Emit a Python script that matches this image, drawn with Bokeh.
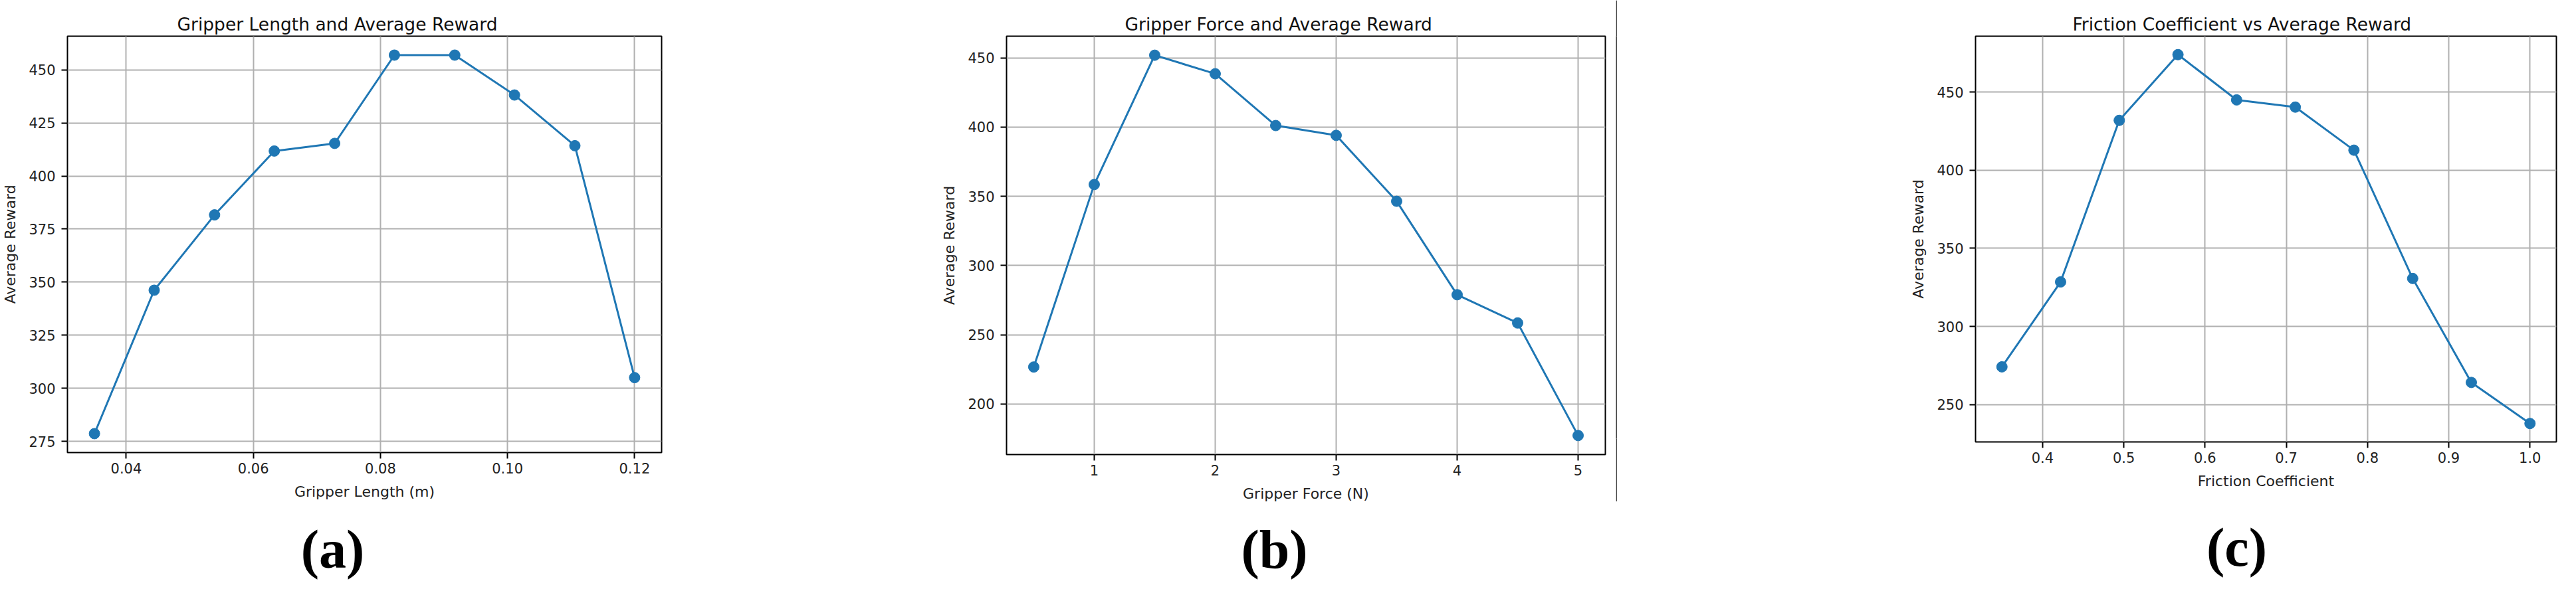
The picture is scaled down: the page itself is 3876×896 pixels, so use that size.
from bokeh.plotting import figure
from bokeh.layouts import row, column
from bokeh.models import Range1d, FixedTicker, PrintfTickFormatter, Label
from bokeh.embed import file_html
from bokeh.resources import INLINE

# (a) gripper length
length_m = [0.035, 0.0444, 0.0539, 0.0633, 0.0728, 0.0822, 0.0917, 0.1011, 0.1106, 0.12]
length_reward = [278.6, 346.2, 381.7, 411.8, 415.4, 457.0, 457.0, 438.2, 414.3, 305.0]
length_ticks = [0.04, 0.06, 0.08, 0.10, 0.12]
length_yticks = [275, 300, 325, 350, 375, 400, 425, 450]

# (b) gripper force
force_n = [0.5, 1.0, 1.5, 2.0, 2.5, 3.0, 3.5, 4.0, 4.5, 5.0]
force_reward = [226.7, 358.5, 451.9, 438.5, 401.1, 394.0, 346.4, 278.9, 258.5, 177.2]
force_ticks = [1, 2, 3, 4, 5]
force_yticks = [200, 250, 300, 350, 400, 450]

# (c) friction coefficient
friction = [0.35, 0.4222, 0.4944, 0.5667, 0.6389, 0.7111, 0.7833, 0.8556, 0.9278, 1.0]
friction_reward = [274.1, 328.5, 432.0, 474.1, 445.1, 440.5, 412.9, 330.7, 264.1, 237.8]
friction_ticks = [0.4, 0.5, 0.6, 0.7, 0.8, 0.9, 1.0]
friction_yticks = [250, 300, 350, 400, 450]

tags = ["(a)", "(b)", "(c)"]

FONT = "DejaVu Sans"
BLUE = "#1f77b4"


def padded(vals):
    lo, hi = min(vals), max(vals)
    pad = 0.05 * (hi - lo)
    return Range1d(lo - pad, hi + pad)


def panel(xs, ys, title, xlabel, xticks, yticks, fmt, frame, mb, title_off):
    p = figure(frame_width=frame[0], frame_height=frame[1], output_backend="svg",
               toolbar_location=None, x_range=padded(xs), y_range=padded(ys),
               min_border_left=mb[0], min_border_right=mb[1],
               min_border_top=mb[2], min_border_bottom=mb[3])
    p.title.text = title
    p.title.text_font = FONT
    p.title.text_font_size = "26.5px"
    p.title.text_font_style = "normal"
    p.title.text_color = "#111111"
    p.title.align = "left"
    p.title.offset = title_off
    p.title.standoff = 6

    p.line(xs, ys, line_color=BLUE, line_width=3)
    p.scatter(xs, ys, size=16, fill_color=BLUE, line_color=BLUE)

    p.xaxis.ticker = FixedTicker(ticks=xticks)
    p.xaxis.formatter = PrintfTickFormatter(format=fmt)
    p.yaxis.ticker = FixedTicker(ticks=yticks)
    p.xaxis.axis_label = xlabel
    p.yaxis.axis_label = "Average Reward"
    for ax in (p.xaxis, p.yaxis):
        ax.axis_line_color = None
        ax.minor_tick_line_color = None
        ax.major_tick_out = 9
        ax.major_tick_in = 0
        ax.major_tick_line_width = 2
        ax.major_tick_line_color = "black"
        ax.major_label_text_font = FONT
        ax.major_label_text_font_size = "21px"
        ax.major_label_text_color = "#222222"
        ax.axis_label_text_font = FONT
        ax.axis_label_text_font_size = "22px"
        ax.axis_label_text_font_style = "normal"
        ax.axis_label_text_color = "#222222"
    p.xaxis.major_label_standoff = 6
    p.yaxis.major_label_standoff = 9
    p.xaxis.axis_label_standoff = 12
    p.yaxis.axis_label_standoff = 12

    p.grid.grid_line_color = "#b0b0b0"
    p.grid.grid_line_width = 2
    p.outline_line_color = "black"
    p.outline_line_width = 2
    p.background_fill_color = "white"
    p.border_fill_color = "white"
    return p


pa = panel(length_m, length_reward, "Gripper Length and Average Reward", "Gripper Length (m)",
           length_ticks, length_yticks, "%.2f", (894, 627), (99, 299, 45, 88), 165)
pb = panel(force_n, force_reward, "Gripper Force and Average Reward", "Gripper Force (N)",
           force_ticks, force_yticks, "%d", (901, 630), (220, 16, 42, 88), 178)
pc = panel(friction, friction_reward, "Friction Coefficient vs Average Reward", "Friction Coefficient",
           friction_ticks, friction_yticks, "%.1f", (874, 611), (539, 16, 54, 95), 146)

# thin vertical divider between (b) and (c)
sep = figure(width=2, height=755, output_backend="svg", toolbar_location=None,
             min_border=0, x_axis_type=None, y_axis_type=None,
             outline_line_color=None, background_fill_color="#444444",
             border_fill_color="#444444")

# strip under the panels holding the (a) (b) (c) tags
strip = figure(width=3860, height=120, output_backend="svg", toolbar_location=None,
               min_border=0, x_axis_type=None, y_axis_type=None,
               outline_line_color=None, background_fill_color="white",
               border_fill_color="white")
for tag, tx, ty in zip(tags, [500, 1917, 3365], [8, 8, 11]):
    strip.add_layout(Label(x=tx, y=ty, x_units="screen", y_units="screen",
                           text=tag, text_align="center", text_baseline="bottom",
                           text_font="Liberation Serif", text_font_size="82px",
                           text_font_style="bold", text_color="black"))

layout = column(row(pa, pb, sep, pc, spacing=0), strip, spacing=0)
open("out.html", "w").write(file_html(layout, INLINE))
